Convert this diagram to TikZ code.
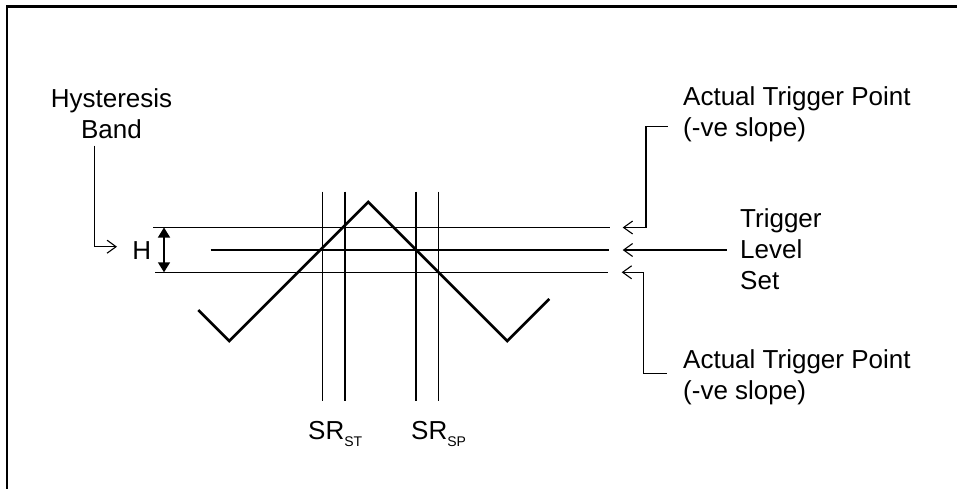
\documentclass[tikz,border=0pt]{standalone}
\usepackage{fontspec}
\setmainfont{Liberation Sans}
\usetikzlibrary{arrows.meta}
\begin{document}
\begin{tikzpicture}[x=1pt,y=-1pt,
  thinline/.style={line width=1.1pt},
  wave/.style={line width=2.6pt, line join=miter},
  frame/.style={line width=2.2pt},
  leader/.style={line width=1.1pt, -{Straight Barb[length=9pt,width=13pt,line width=1.1pt]}},
  lbl/.style={inner sep=0pt, font=\fontsize{26}{31}\selectfont},
  sub/.style={font=\fontsize{14}{14}\selectfont}]
\useasboundingbox (0,0) rectangle (957,489);
% frame
\draw[frame] (7,489) -- (7,6.5) -- (957,6.5);
% horizontal levels
\draw[thinline] (153,227.5) coordinate (ta) -- (610,227.5) coordinate (tb);
\draw[thinline] (210.7,250) coordinate (ma) -- (609,250) coordinate (mb);
\draw[thinline] (155,272.3) coordinate (ba) -- (608,272.3) coordinate (bb);
% verticals
\foreach \x/\n in {322.7/v1,345/v2,416/v3,438.3/v4}
  \draw[thinline] (\x,191.7) coordinate (\n t) -- (\x,401) coordinate (\n b);
% triangle wave
\draw[wave] (198.3,310) coordinate (w0) -- (229.3,341) coordinate (w1)
  -- (368.3,202) coordinate (w2) -- (507.3,341) coordinate (w3)
  -- (549.3,299) coordinate (w4);
% H arrow
\coordinate (hT) at (164,227.5);
\coordinate (hB) at (164,272.3);
\draw[line width=1.4pt, {Triangle[length=10pt,width=12pt]}-{Triangle[length=10pt,width=12pt]}] (hT) -- (hB);
\node[lbl, anchor=base] (H) at (141.7,259.3) {H};
% texts (multi-line nodes: base anchor = last line)
\node[lbl, anchor=base, align=center] (hyst) at (111.5,138.3) {Hysteresis\\Band};
\node[lbl, anchor=base west, align=left] (atp1) at (683,136.7) {Actual Trigger Point\\(-ve slope)};
\node[lbl, anchor=base west, align=left] (tls) at (740,289.3) {Trigger\\Level\\Set};
\node[lbl, anchor=base west, align=left] (atp2) at (683,399) {Actual Trigger Point\\(-ve slope)};
\node[lbl, anchor=base west] (srst) at (308,439.3) {SR\raisebox{-7.4pt}{\fontsize{14}{14}\selectfont ST}};
\node[lbl, anchor=base west] (srsp) at (411,439.3) {SR\raisebox{-7.4pt}{\fontsize{14}{14}\selectfont SP}};
% leaders
\coordinate (hs) at (94.3,145.7);
\coordinate (he) at (117,246.7);
\draw[leader] (hs) |- (he);
\coordinate (t1s) at (667.7,126.7);
\coordinate (t1e) at (622.7,227.5);
\draw[leader] (t1s) -- (646,126.7) |- (t1e);
\coordinate (t2s) at (726.7,250);
\coordinate (t2e) at (622.7,250);
\draw[leader] (t2s) -- (t2e);
\coordinate (t3s) at (666.7,373.3);
\coordinate (t3e) at (621.7,272.3);
\draw[leader] (t3s) -- (643.3,373.3) |- (t3e);
\end{tikzpicture}
\end{document}
